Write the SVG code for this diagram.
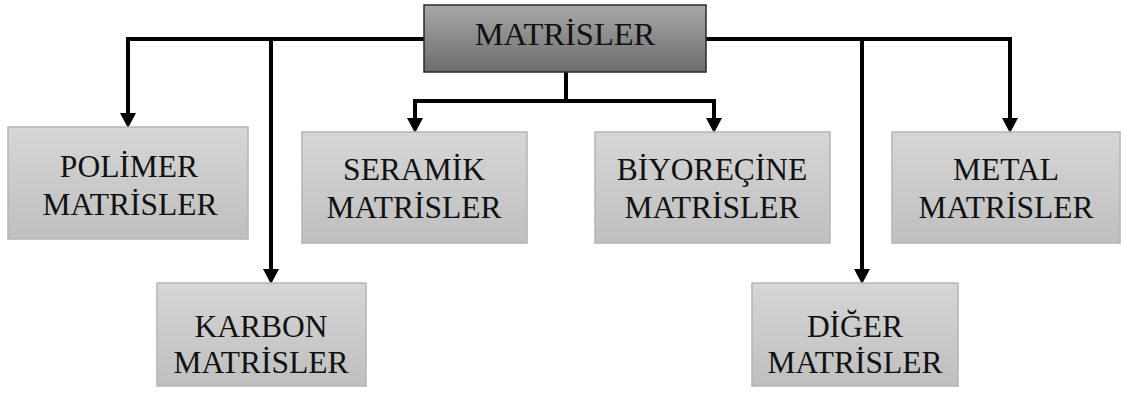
<svg xmlns="http://www.w3.org/2000/svg" width="1125" height="398" viewBox="0 0 1125 398">
<style>
.box{fill:url(#lg);stroke:#b4b4b4;stroke-width:1.5}
.top{fill:url(#dg);stroke:#2a2a2a;stroke-width:1.5}
.t{font-family:"Liberation Serif","Times New Roman",serif;font-size:31.5px;fill:#111;text-anchor:middle}
.tt{font-size:32.5px}
.c{fill:none;stroke:#000;stroke-width:4;marker-end:url(#ah)}
.n{fill:none;stroke:#000;stroke-width:4}
</style>
<defs>
<linearGradient id="lg" x1="0" y1="0" x2="0" y2="1"><stop offset="0" stop-color="#d6d6d6"/><stop offset="1" stop-color="#bfbfbf"/></linearGradient>
<linearGradient id="dg" x1="0" y1="0" x2="0" y2="1"><stop offset="0" stop-color="#a8a8a8"/><stop offset="1" stop-color="#6c6c6c"/></linearGradient>
<marker id="ah" markerUnits="userSpaceOnUse" viewBox="0 0 15 16" refX="0" refY="8" markerWidth="15" markerHeight="16" orient="auto-start-reverse"><path d="M0,0 L15,8 L0,16 z" fill="#000"/></marker>
</defs>
<g id="connectors">
<path class="c" style="marker-start:url(#ah)" d="M128,113 V39 H1010 V118"/>
<path class="c" d="M271,39 V269"/>
<path class="c" d="M862,39 V269"/>
<path class="n" d="M566,72 V101"/>
<path class="c" style="marker-start:url(#ah)" d="M415,118 V101 H714 V118"/>
</g>
<g id="matrisler"><rect class="top" x="424" y="5" width="282" height="67"/><text class="t tt" x="565" y="45">MATRİSLER</text></g>
<g id="polimer"><rect class="box" x="8" y="127" width="240" height="112"/><text class="t" x="129" y="177">POLİMER</text><text class="t" x="130" y="215">MATRİSLER</text></g>
<g id="seramik"><rect class="box" x="302" y="132" width="225" height="111"/><text class="t" x="414" y="180">SERAMİK</text><text class="t" x="414" y="218">MATRİSLER</text></g>
<g id="biyorecine"><rect class="box" x="595" y="132" width="235" height="111"/><text class="t" x="712" y="180">BİYOREÇİNE</text><text class="t" x="712" y="218">MATRİSLER</text></g>
<g id="metal"><rect class="box" x="892" y="132" width="228" height="111"/><text class="t" x="1006" y="180">METAL</text><text class="t" x="1006" y="218">MATRİSLER</text></g>
<g id="karbon"><rect class="box" x="157" y="283" width="209" height="103"/><text class="t" x="261" y="337">KARBON</text><text class="t" x="261" y="373">MATRİSLER</text></g>
<g id="diger"><rect class="box" x="752" y="283" width="206" height="103"/><text class="t" x="855" y="337">DİĞER</text><text class="t" x="855" y="373">MATRİSLER</text></g>
</svg>
